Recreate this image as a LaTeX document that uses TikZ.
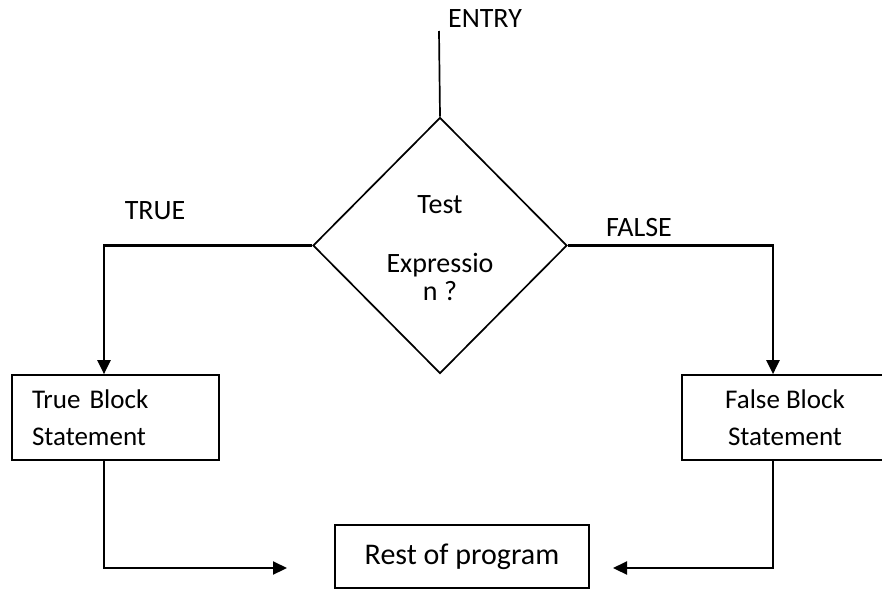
\documentclass[tikz,border=0pt]{standalone}
\usepackage{fontspec}
\setmainfont{Carlito}
\usetikzlibrary{shapes.geometric,arrows.meta}
\begin{document}
\begin{tikzpicture}[x=1pt,y=-1pt,
  every node/.style={font=\fontsize{28}{28}\selectfont},
  shapeline/.style={draw=black,line width=1.7pt},
  flowbox/.style={shapeline,rectangle,inner sep=0pt},
  decision/.style={shapeline,diamond,inner sep=0pt,minimum width=254pt,minimum height=256pt,align=center},
  link/.style={draw=black,line width=1.7pt},
  arr/.style={draw=black,line width=2.2pt,-{Triangle[length=14pt,width=13pt]}}]
  \useasboundingbox (0,0) rectangle (882,589);

  % entry point and decision diamond
  \coordinate (entry) at (439,31);
  \node[decision] (dec) at (440,245.5) {};
  \node (dectext) at (440,248) [align=center] {Test\\[31pt]Expressio\\n ?};
  \node (entrylbl) at (485,19) {ENTRY};
  \draw[link] (entry) -- (dec.north);

  % branch columns
  \coordinate (tcol) at (104,0);
  \coordinate (fcol) at (773,0);

  % true / false blocks
  \node[flowbox,minimum width=207pt,minimum height=85pt,text width=167pt,align=left,
        font=\fontsize{27}{37}\selectfont] (tb) at (115.5,417.5) {True Block\\Statement};
  \node[flowbox,minimum width=216pt,minimum height=85pt,align=center,
        font=\fontsize{27}{37}\selectfont] (fb) at (790,417.5) {\hspace*{-10pt}False Block\\\hspace*{-10pt}Statement};

  % rest of program
  \node[flowbox,minimum width=254pt,minimum height=63pt,font=\fontsize{30}{30}\selectfont] (rest) at (462,556.5) {Rest of program};

  % branch labels
  \node (truelbl) at (155,211) {TRUE};
  \node (falselbl) at (639,228) {FALSE};

  % connectors
  \draw[arr] (dec.west) -| (tb.north -| tcol);
  \draw[arr] (dec.east) -| (fb.north -| fcol);
  \coordinate (tin) at (287,568);
  \coordinate (fin) at (613,568);
  \draw[arr] (tb.south -| tcol) |- (tin);
  \draw[arr] (fb.south -| fcol) |- (fin);
\end{tikzpicture}
\end{document}
